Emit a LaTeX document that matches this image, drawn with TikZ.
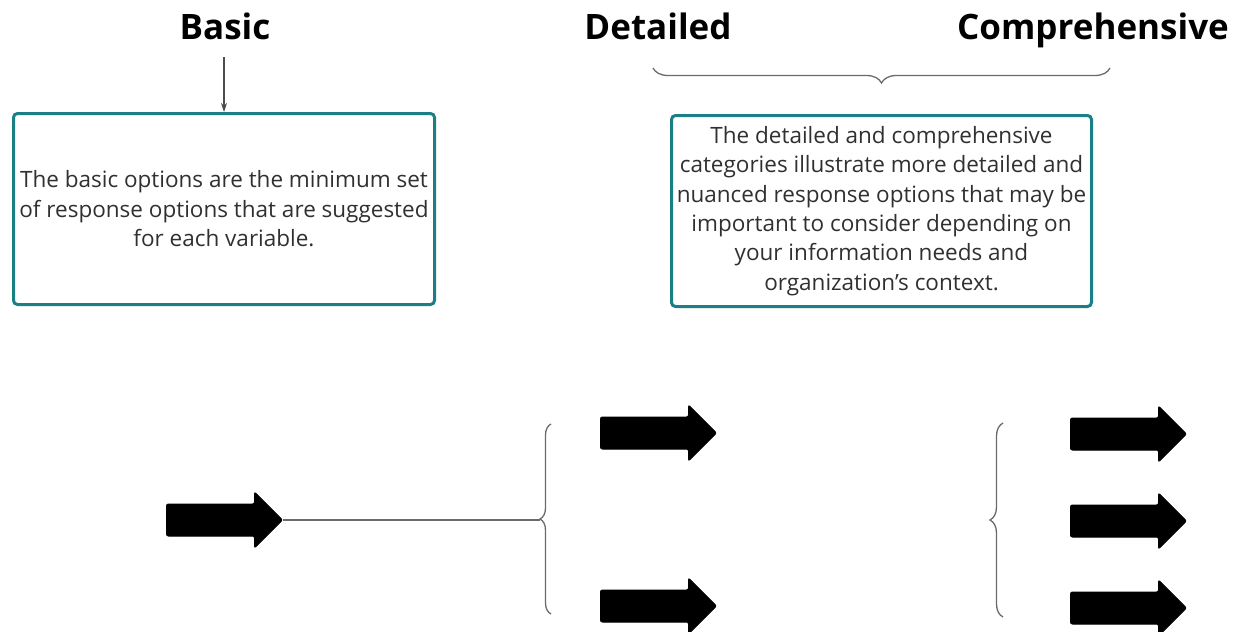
\documentclass[tikz,border=0pt]{standalone}
\usepackage{fontspec}
\setmainfont{Open Sans}
\usetikzlibrary{shapes.arrows,decorations.pathreplacing,arrows.meta}
\definecolor{tealb}{HTML}{1B7F86}
\definecolor{txt}{HTML}{303030}
\definecolor{brc}{HTML}{6A6A6A}
\begin{document}
\begin{tikzpicture}[x=1pt,y=-1pt,
  heading/.style={font=\bfseries\fontsize{35}{40}\selectfont, inner sep=0pt, anchor=base, text=black},
  infobox/.style={draw=tealb, line width=3pt, rounded corners=4pt, text=txt, align=center,
    font=\fontsize{22.5}{29.4}\selectfont, inner sep=0pt},
  bigarrow/.style={single arrow, fill=black, draw=black, line width=1pt, rounded corners=2pt,
    inner xsep=0pt, inner ysep=15.5pt, minimum height=116pt, single arrow head extend=12pt,
    single arrow head indent=0pt, anchor=west},
  bracestyle/.style={draw=brc, line width=1.3pt, decorate},
  thin/.style={draw=brc, line width=1.1pt}
]
\useasboundingbox (0,0) rectangle (1243,632);

% headings
\node[heading] (basic) at (225,39) {Basic};
\node[heading] (detailed) at (658,39) {Detailed};
\node[heading] (compr) at (1093,39) {Comprehensive};

% boxes
\node[infobox, minimum width=421pt, minimum height=191pt] (box1) at (224,209)
  {The basic options are the minimum set\\of response options that are suggested\\for each variable.};
\node[infobox, minimum width=420pt, minimum height=191pt] (box2) at (881.5,211)
  {The detailed and comprehensive\\categories illustrate more detailed and\\nuanced response options that may be\\important to consider depending on\\your information needs and\\organization’s context.};

% arrow from Basic to box
\draw[thin, -{Stealth[length=9pt,width=6pt]}, black!70] (224,57) -- (box1.north);

% top brace
\coordinate (tbR) at (1110,68);
\coordinate (tbL) at (653,68);
\draw[bracestyle, decoration={brace, amplitude=15pt}] (tbR) -- (tbL);

% bottom left arrow
\node[bigarrow] (a0) at (166,520) {};
\coordinate (mbTop) at (551,424);
\coordinate (mbBot) at (551,614);
\coordinate (mbTip) at (540,520);
\draw[bracestyle, decoration={brace, amplitude=11pt}] (mbBot) -- (mbTop);
\draw[thin] (a0.tip) -- (mbTip);

% middle arrows
\node[bigarrow] (d1) at (600,433) {};
\node[bigarrow] (d2) at (600,606) {};

% right brace and arrows
\coordinate (rbTop) at (1003,423);
\coordinate (rbBot) at (1003,617);
\draw[bracestyle, decoration={brace, amplitude=13pt}] (rbBot) -- (rbTop);
\node[bigarrow] (c1) at (1070,434) {};
\node[bigarrow] (c2) at (1070,521) {};
\node[bigarrow] (c3) at (1070,608) {};
\end{tikzpicture}
\end{document}
